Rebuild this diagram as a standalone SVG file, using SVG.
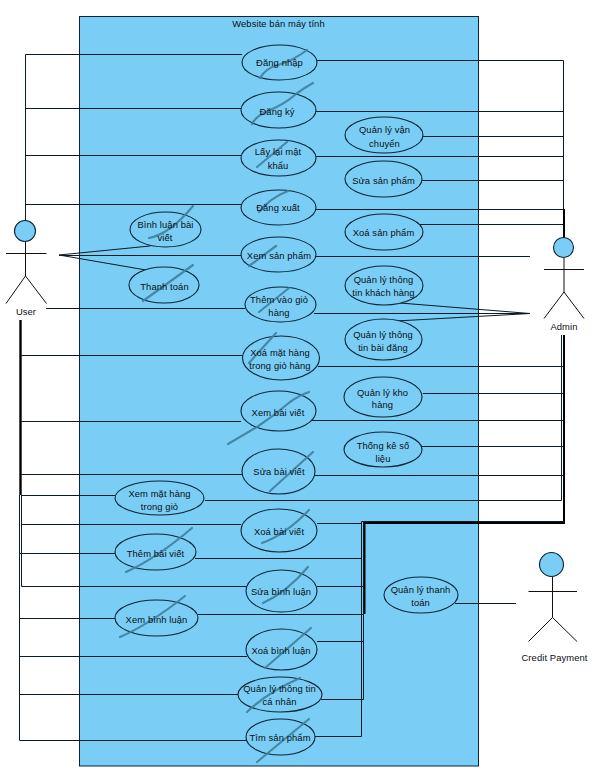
<svg xmlns="http://www.w3.org/2000/svg" width="594" height="772" viewBox="0 0 594 772">
<style>
text{font-family:"Liberation Sans",Arial,sans-serif;font-size:9.4px;letter-spacing:.1px;fill:#0a0f14;text-anchor:middle}
.b{fill:#7acef5;stroke:#0c2436;stroke-width:1}
.u{fill:#7acef5;stroke:#0c2436;stroke-width:1.1}
.s{fill:none;stroke:#3f7f9f;stroke-width:2.2;stroke-linecap:round;stroke-linejoin:round;opacity:.9}
.c{fill:none;stroke:#0a1a26;stroke-width:1}
.t{fill:none;stroke:#000;stroke-width:2.4}
.a{fill:none;stroke:#111;stroke-width:1}
.h{fill:#7acef5;stroke:#0c2436;stroke-width:1.1}
</style>
<rect id="system" class="b" x="79.500" y="16.500" width="399" height="749.500"/>
<text x="278.500" y="27">Website bán máy tính</text>
<g id="connectors">
<path class="c" d="M25.500 220V54.500H242M25.500 108.500H241M25.500 155.500H241M25.500 204.500H241"/>
<path class="c" d="M59 255L150 246M59 255.500H241M59 255L146 270M46 308.500H245"/>
<path class="t" d="M20.500 320V495"/>
<path class="c" d="M21 355.500H243M21 421.500H241M21 474.500H242M21 495.500H116M21.500 495V586.500H246M21.500 524.500H241M19.500 495V740.500H246M19.500 553.500H115M19.500 618.500H115M19.500 656.500H247M19.500 694.500H238"/>
<path class="c" d="M563.500 238V60.500H317M563 111.500H316M563 136.500H423M563 156.500H316M563 180.500H422M563 209.500H316M563 224.500H420"/>
<path class="t" d="M564 209V238" style="stroke-width:2"/>
<path class="c" d="M316 256.500H530M314 313.500H530M530 313.500L400 303M530 313.500L396 321"/>
<path class="t" d="M564 335V523H364.500V614" style="stroke-width:2"/>
<path class="c" d="M561.500 335V500.500H205M563 366.500H318M563 393.500H423M563 420.500H310M563 446.500H421M563 475.500H315"/>
<path class="c" d="M564 521.500H361.500V736.500H315M363.500 522V699.500H321M317 523.500H362M195 558.500H362M317 586.500H364M198 614.500H364M317 641.500H363"/>
<path class="c" d="M455 603.500H516"/>
</g>
<g id="user"><circle class="h" cx="25" cy="231" r="10.500"/><path class="a" d="M25.500 242V276M6 253.500H46.500M6 303.500L25.500 276L46.500 303.500"/><text x="26" y="315">User</text></g>
<g id="admin"><circle class="h" cx="563.500" cy="247.500" r="10"/><path class="a" d="M564 258V292M544 269.500H584M544 318.500L564 292L584 318.500"/><text x="564" y="330">Admin</text></g>
<g id="credit"><circle class="h" cx="551.500" cy="564.500" r="12"/><path class="a" d="M552.500 577V617.500M528.500 591.500H577M528.500 641.500L552.500 617.500L577 641.500"/><text x="554.500" y="661">Credit Payment</text></g>
<g id="uc1"><ellipse class="u" cx="279.500" cy="62.500" rx="37.500" ry="17.500"/><path class="s" d="M260 78Q266 68 278 65Q294 60 307 50"/><text x="279.500" y="66">Đăng nhập</text></g>
<g id="uc2"><ellipse class="u" cx="278.500" cy="110" rx="37.500" ry="18"/><path class="s" d="M252 124Q256 116 268 111Q285 104 296 94Q304 88 313 83"/><text x="277" y="115">Đăng ký</text></g>
<g id="uc3"><ellipse class="u" cx="278.500" cy="158" rx="37.500" ry="18"/><path class="s" d="M257 167L287 142"/><text x="278" y="155">Lấy lại mật</text><text x="278" y="168.500">khẩu</text></g>
<g id="uc4"><ellipse class="u" cx="278.500" cy="207.500" rx="37.500" ry="17.500"/><path class="s" d="M259 212Q270 198 288 191"/><text x="278" y="211">Đăng xuất</text></g>
<g id="uc5"><ellipse class="u" cx="278.500" cy="254.500" rx="37.500" ry="17.500"/><path class="s" d="M249 266L276 246"/><text x="279" y="259">Xem sản phẩm</text></g>
<g id="uc6"><ellipse class="u" cx="280.500" cy="304.500" rx="35.500" ry="17.500"/><path class="s" d="M259 312L289 288"/><text x="279" y="303">Thêm vào giỏ</text><text x="279" y="316">hàng</text></g>
<g id="uc7"><ellipse class="u" cx="281" cy="358" rx="38.500" ry="22"/><path class="s" d="M249 363L276 333"/><text x="280" y="356">Xoá mặt hàng</text><text x="280" y="369">trong giỏ hàng</text></g>
<g id="uc8"><ellipse class="u" cx="278.500" cy="411" rx="37.500" ry="20"/><path class="s" d="M228 444L257 427Q275 415 290 402Q300 395 309 392"/><text x="278" y="416">Xem bài viết</text></g>
<g id="uc9"><ellipse class="u" cx="278.500" cy="471.500" rx="36.500" ry="22.500"/><path class="s" d="M270 491L313 452"/><text x="279" y="475">Sửa bài viết</text></g>
<g id="uc10"><ellipse class="u" cx="279" cy="530.500" rx="38" ry="21.500"/><path class="s" d="M262 543Q285 535 309 510"/><text x="279" y="535">Xoá bài viết</text></g>
<g id="uc11"><ellipse class="u" cx="281.500" cy="591" rx="35.500" ry="21"/><path class="s" d="M263 603Q287 592 308 567"/><text x="281" y="595">Sửa bình luận</text></g>
<g id="uc12"><ellipse class="u" cx="281.500" cy="649.500" rx="35.500" ry="20.500"/><path class="s" d="M265 668L311 628"/><text x="281" y="654">Xoá bình luận</text></g>
<g id="uc13"><ellipse class="u" cx="280" cy="694.500" rx="42" ry="17.500"/><path class="s" d="M247 712Q268 692 300 678"/><text x="279.500" y="692">Quản lý thông tin</text><text x="279.500" y="705">cá nhân</text></g>
<g id="uc14"><ellipse class="u" cx="280.500" cy="737" rx="34.500" ry="18"/><path class="s" d="M257 762L309 719"/><text x="280" y="741">Tìm sản phẩm</text></g>
<g id="uc15"><ellipse class="u" cx="165.500" cy="229.500" rx="35.500" ry="17.500"/><path class="s" d="M149 238Q170 234 193 206"/><text x="165.500" y="228">Bình luận bài</text><text x="165" y="241">viết</text></g>
<g id="uc16"><ellipse class="u" cx="164" cy="285" rx="35" ry="18"/><path class="s" d="M143 301L193 265"/><text x="164.500" y="290">Thanh toán</text></g>
<g id="uc17"><ellipse class="u" cx="159.500" cy="498" rx="44.500" ry="17"/><text x="159.500" y="497">Xem mặt hàng</text><text x="159.500" y="510">trong giỏ</text></g>
<g id="uc18"><ellipse class="u" cx="155.500" cy="552" rx="40.500" ry="18"/><path class="s" d="M126 572Q157 558 192 528"/><text x="155.500" y="557">Thêm bài viết</text></g>
<g id="uc19"><ellipse class="u" cx="156.500" cy="618" rx="41.500" ry="18"/><path class="s" d="M120 637Q150 624 185 596"/><text x="156.500" y="623">Xem bình luận</text></g>
<g id="uc20"><ellipse class="u" cx="384" cy="135" rx="39" ry="18"/><text x="384.500" y="133">Quản lý vận</text><text x="384.500" y="147">chuyển</text></g>
<g id="uc21"><ellipse class="u" cx="383.500" cy="179" rx="38.500" ry="18"/><text x="383.500" y="184">Sửa sản phẩm</text></g>
<g id="uc22"><ellipse class="u" cx="384" cy="232" rx="39" ry="18"/><text x="383.500" y="236">Xoá sản phẩm</text></g>
<g id="uc23"><ellipse class="u" cx="384" cy="285.500" rx="39" ry="19.500"/><text x="383.500" y="283">Quản lý thông</text><text x="383.500" y="296">tin khách hàng</text></g>
<g id="uc24"><ellipse class="u" cx="383.500" cy="339.500" rx="38.500" ry="20.500"/><text x="383" y="338">Quản lý thông</text><text x="383" y="351">tin bài đăng</text></g>
<g id="uc25"><ellipse class="u" cx="383" cy="397" rx="39" ry="20"/><text x="382.500" y="396">Quản lý kho</text><text x="382.500" y="408">hàng</text></g>
<g id="uc26"><ellipse class="u" cx="383" cy="449.500" rx="39" ry="17.500"/><text x="383" y="449">Thống kê số</text><text x="383" y="462">liệu</text></g>
<g id="uc27"><ellipse class="u" cx="421" cy="595" rx="37" ry="18"/><text x="420.500" y="593">Quản lý thanh</text><text x="420.500" y="606">toán</text></g>
</svg>
